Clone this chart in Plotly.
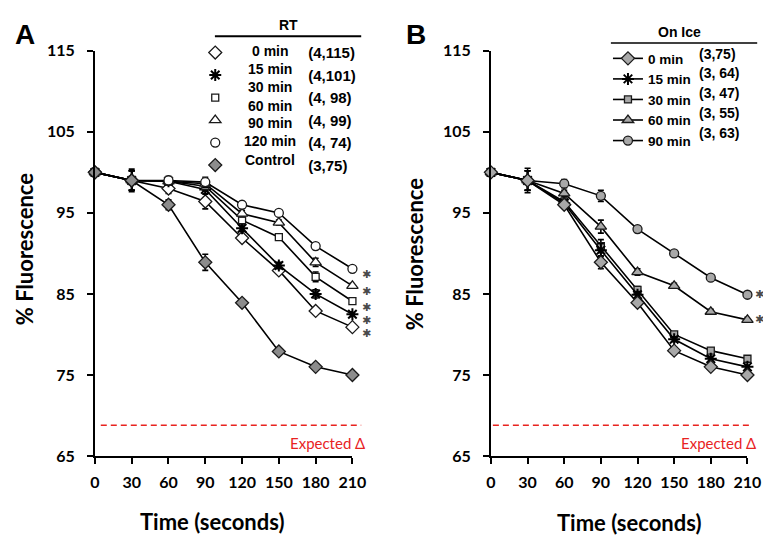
import plotly.graph_objects as go

W, H = 771, 539

# ---------------- data ----------------
time_s = [0, 30, 60, 90, 120, 150, 180, 210]
x_ticks = [0, 30, 60, 90, 120, 150, 180, 210]
y_ticks = [65, 75, 85, 95, 105, 115]

# Panel A: RT
rt_0 = [100, 99, 98.0, 96.4, 91.9, 87.9, 82.9, 80.9]
rt_15 = [100, 99, 98.9, 97.9, 93.1, 88.5, 85.0, 82.5]
rt_30 = [100, 99, 98.9, 98.3, 94.1, 92.0, 87.1, 84.1]
rt_60 = [100, 99, 98.9, 98.6, 94.9, 93.8, 88.9, 86.0]
rt_120 = [100, 99, 99.0, 98.8, 96.0, 95.0, 90.9, 88.1]
rt_ctl = [100, 99, 96.0, 88.9, 83.9, 77.9, 76.0, 75.0]
rt_0_err = [0.2, 1.2, 0.6, 0.9, 0.4, 0.4, 0.4, 0.3]
rt_15_err = [0.2, 1.2, 0.4, 0.5, 0.4, 0.4, 0.5, 0.3]
rt_30_err = [0.2, 1.2, 0.4, 0.5, 0.4, 0.3, 0.6, 0.3]
rt_60_err = [0.2, 1.2, 0.4, 0.5, 0.4, 0.3, 0.5, 0.3]
rt_120_err = [0.2, 1.4, 0.5, 0.6, 0.4, 0.3, 0.4, 0.3]
rt_ctl_err = [0.2, 1.2, 0.6, 1.0, 0.4, 0.3, 0.3, 0.3]
rt_legend_labels = ["0 min", "15 min", "30 min", "60 min", "90 min", "120 min", "Control"]
rt_counts = ["(4,115)", "(4,101)", "(4, 98)", "(4, 99)", "(4, 74)", "(3,75)"]
rt_signif = ["120 min", "60 min", "30 min", "15 min", "0 min"]

# Panel B: On Ice
ice_names = ["0 min", "15 min", "30 min", "60 min", "90 min"]
ice_0 = [100, 99, 96.0, 88.9, 83.9, 78.0, 76.0, 75.0]
ice_15 = [100, 99, 96.2, 90.4, 84.9, 79.4, 77.0, 76.0]
ice_30 = [100, 99, 96.4, 90.9, 85.5, 80.0, 78.0, 77.0]
ice_60 = [100, 99, 97.4, 93.3, 87.7, 86.0, 82.8, 81.8]
ice_90 = [100, 99, 98.6, 97.1, 93.0, 90.0, 87.0, 84.9]
ice_0_err = [0.2, 1.2, 0.4, 0.8, 0.4, 0.3, 0.3, 0.3]
ice_15_err = [0.2, 1.2, 0.4, 0.8, 0.4, 0.3, 0.3, 0.3]
ice_30_err = [0.2, 1.2, 0.4, 0.8, 0.4, 0.3, 0.3, 0.3]
ice_60_err = [0.2, 1.2, 0.4, 0.8, 0.4, 0.3, 0.3, 0.3]
ice_90_err = [0.2, 1.5, 0.5, 0.7, 0.4, 0.3, 0.3, 0.3]
ice_counts = ["(3,75)", "(3, 64)", "(3, 47)", "(3, 55)", "(3, 63)"]
ice_signif = ["90 min", "60 min"]

expected_delta = 68.8

# ---------------- helpers ----------------
def px(x):
    return x / W

def py(y):
    return 1 - y / H

TICKFONT = dict(family="Lato, Open Sans, sans-serif", size=16, color="black", weight="bold")
TITLEFONT = dict(family="Lato, Open Sans, sans-serif", size=22, color="black", weight="bold")
LEGFAMILY = "Liberation Sans, Arial, sans-serif"
LEGFONT = dict(family=LEGFAMILY, size=14, color="black", weight="bold")

WHITE = "white"
GRAY_A = "#8c8c8c"
GRAY_B = "#a8a8a8"

fig = go.Figure()

def marker_style(symbol, size, fill, lw=1.3):
    is_line_symbol = symbol.startswith("asterisk")
    return dict(symbol=symbol, size=size, color=fill if not is_line_symbol else "black",
                line=dict(color="#1a1a1a", width=2 if is_line_symbol else lw))

def add_series(x, y, err, name, symbol, size, fill, xa, ya, legend, rank,
               legend_text=None, proxy_legend=False):
    mk = marker_style(symbol, size, fill)
    fig.add_trace(go.Scatter(
        x=x, y=y, name=legend_text or name, mode="lines+markers",
        xaxis=xa, yaxis=ya, legend=legend, legendrank=rank,
        showlegend=not proxy_legend,
        line=dict(color="black", width=1.6),
        marker=mk,
        error_y=dict(type="data", array=err, color="black", thickness=1.6, width=3),
        cliponaxis=False,
        hovertemplate=name + ": %{y}<extra></extra>",
    ))
    if proxy_legend:
        # legend-only entry (marker key + n-count text)
        fig.add_trace(go.Scatter(
            x=[None], y=[None], name=legend_text, mode="markers",
            xaxis=xa, yaxis=ya, legend=legend, legendrank=rank,
            marker=mk, hoverinfo="skip",
        ))

# Panel A series
add_series(time_s, rt_0, rt_0_err, "0 min", "diamond", 10, WHITE, "x", "y", "legend", 1, rt_counts[0], True)
add_series(time_s, rt_15, rt_15_err, "15 min", "asterisk-open", 10, WHITE, "x", "y", "legend", 2, rt_counts[1], True)
add_series(time_s, rt_30, rt_30_err, "30 min", "square", 7, WHITE, "x", "y", "legend", 3, rt_counts[2], True)
add_series(time_s, rt_60, rt_60_err, "60 min", "triangle-up", 10, WHITE, "x", "y", "legend", 4, rt_counts[3], True)
add_series(time_s, rt_120, rt_120_err, "120 min", "circle", 9, WHITE, "x", "y", "legend", 5, rt_counts[4], True)
add_series(time_s, rt_ctl, rt_ctl_err, "Control", "diamond", 10, GRAY_A, "x", "y", "legend", 6, rt_counts[5], True)

# Panel B series
add_series(time_s, ice_90, ice_90_err, ice_names[4], "circle", 9, GRAY_B, "x2", "y2", "legend2", 5)
add_series(time_s, ice_60, ice_60_err, ice_names[3], "triangle-up", 10, GRAY_B, "x2", "y2", "legend2", 4)
add_series(time_s, ice_30, ice_30_err, ice_names[2], "square", 7, GRAY_B, "x2", "y2", "legend2", 3)
add_series(time_s, ice_15, ice_15_err, ice_names[1], "asterisk-open", 10, GRAY_B, "x2", "y2", "legend2", 2)
add_series(time_s, ice_0, ice_0_err, ice_names[0], "diamond", 10, GRAY_B, "x2", "y2", "legend2", 1)

axis_common = dict(
    showline=True, linecolor="black", linewidth=2, ticks="outside", ticklen=6,
    tickwidth=2, tickcolor="black", showgrid=False, zeroline=False,
    tickfont=TICKFONT, mirror=False,
)

LEG_A_ITEMW = 176
fig.update_layout(
    width=W, height=H,
    margin=dict(l=0, r=0, t=0, b=0),
    paper_bgcolor="white", plot_bgcolor="white",
    showlegend=True,
    xaxis=dict(domain=[px(84), px(348)], range=[0, 210], tickvals=x_ticks,
               anchor="y", ticklabelstandoff=5, **axis_common),
    yaxis=dict(domain=[py(454), py(34)], range=[65, 115], tickvals=y_ticks,
               anchor="x", ticklabelstandoff=9, **axis_common),
    xaxis2=dict(domain=[px(490), px(753)], range=[0, 210], tickvals=x_ticks,
                anchor="y2", ticklabelstandoff=5, **axis_common),
    yaxis2=dict(domain=[py(454), py(34)], range=[65, 115], tickvals=y_ticks,
                anchor="x2", ticklabelstandoff=9, **axis_common),
    legend=dict(x=px(112), y=py(19), xanchor="left", yanchor="top",
                bgcolor="rgba(0,0,0,0)", itemwidth=LEG_A_ITEMW,
                font=dict(family=LEGFAMILY, size=15, color="black", weight="bold"),
                tracegroupgap=0, traceorder="normal"),
    legend2=dict(x=px(610), y=py(26), xanchor="left", yanchor="top",
                 bgcolor="rgba(0,0,0,0)",
                 font=dict(family=LEGFAMILY, size=13.5, color="black", weight="bold"),
                 tracegroupgap=0, traceorder="normal"),
)

ann = []
# panel letters
ann.append(dict(text="A", x=px(1), y=py(0), xanchor="left", yanchor="top",
                font=dict(family="Liberation Sans, Arial", size=28, weight="bold", color="black")))
ann.append(dict(text="B", x=px(402), y=py(0), xanchor="left", yanchor="top",
                font=dict(family="Liberation Sans, Arial", size=28, weight="bold", color="black")))
# axis titles
ann.append(dict(text="% Fluorescence", x=px(12), y=py(240), textangle=-90,
                xanchor="center", yanchor="middle", font=TITLEFONT))
ann.append(dict(text="% Fluorescence", x=px(412), y=py(245), textangle=-90,
                xanchor="center", yanchor="middle", font=TITLEFONT))
ann.append(dict(text="Time (seconds)", x=px(204), y=py(522), xanchor="center",
                yanchor="middle", font=TITLEFONT))
ann.append(dict(text="Time (seconds)", x=px(632), y=py(523), xanchor="center",
                yanchor="middle", font=TITLEFONT))
# expected delta labels
red = "#e8231f"
ann.append(dict(text="Expected \u0394", x=px(362), y=py(441), xanchor="right", yanchor="middle",
                font=dict(family="Lato, Open Sans", size=15, color=red)))
ann.append(dict(text="Expected \u0394", x=px(763), y=py(441), xanchor="right", yanchor="middle",
                font=dict(family="Lato, Open Sans", size=15, color=red)))

# legend A: title and the condition-name column
ann.append(dict(text="RT", x=px(282), y=py(7), xanchor="center", yanchor="middle", font=LEGFONT))
lab_y_a = [34, 53, 72, 91, 109, 128, 147]
for lab, yy in zip(rt_legend_labels, lab_y_a):
    ann.append(dict(text=lab, x=px(264), y=py(yy), xanchor="center", yanchor="middle", font=LEGFONT))

# legend B: title and the n-count column
ann.append(dict(text="On Ice", x=px(683), y=py(15), xanchor="center", yanchor="middle", font=LEGFONT))
row_y_b = [37, 57.5, 78, 98.5, 119]
for c, yy in zip(ice_counts, row_y_b):
    ann.append(dict(text=c, x=px(702), y=py(yy), xanchor="left", yanchor="middle", font=LEGFONT))

# significance asterisks
STARFONT = dict(family="DejaVu Sans, Liberation Sans", size=11, color="#4a4a4a")
STAR = "\u2731"
last_a = {"0 min": rt_0[-1], "15 min": rt_15[-1], "30 min": rt_30[-1],
          "60 min": rt_60[-1], "120 min": rt_120[-1]}
for nm in rt_signif:
    ann.append(dict(text=STAR, x=210, y=last_a[nm], xref="x", yref="y", xanchor="center",
                    yanchor="middle", xshift=14, yshift=-6, font=STARFONT))
last_b = {"60 min": ice_60[-1], "90 min": ice_90[-1]}
for nm in ice_signif:
    ann.append(dict(text=STAR, x=210, y=last_b[nm], xref="x2", yref="y2", xanchor="center",
                    yanchor="middle", xshift=12, yshift=0, font=STARFONT))

for a in ann:
    a.setdefault("xref", "paper")
    a.setdefault("yref", "paper")
    a["showarrow"] = False
    a["borderpad"] = 0
fig.update_layout(annotations=ann)

# shapes: legend title rules and expected-delta dashed lines
shapes = [
    dict(type="line", xref="paper", yref="paper", x0=px(207), x1=px(357), y0=py(19), y1=py(19),
         line=dict(color="black", width=2)),
    dict(type="line", xref="paper", yref="paper", x0=px(613), x1=px(763), y0=py(26), y1=py(26),
         line=dict(color="black", width=1.5)),
    dict(type="line", xref="paper", yref="y", x0=px(90), x1=px(357), y0=expected_delta,
         y1=expected_delta, line=dict(color=red, width=1.5, dash="6px,4px")),
    dict(type="line", xref="paper", yref="y2", x0=px(492), x1=px(758), y0=expected_delta,
         y1=expected_delta, line=dict(color=red, width=1.5, dash="6px,4px")),
]
fig.update_layout(shapes=shapes)

fig.write_html("out.html")
